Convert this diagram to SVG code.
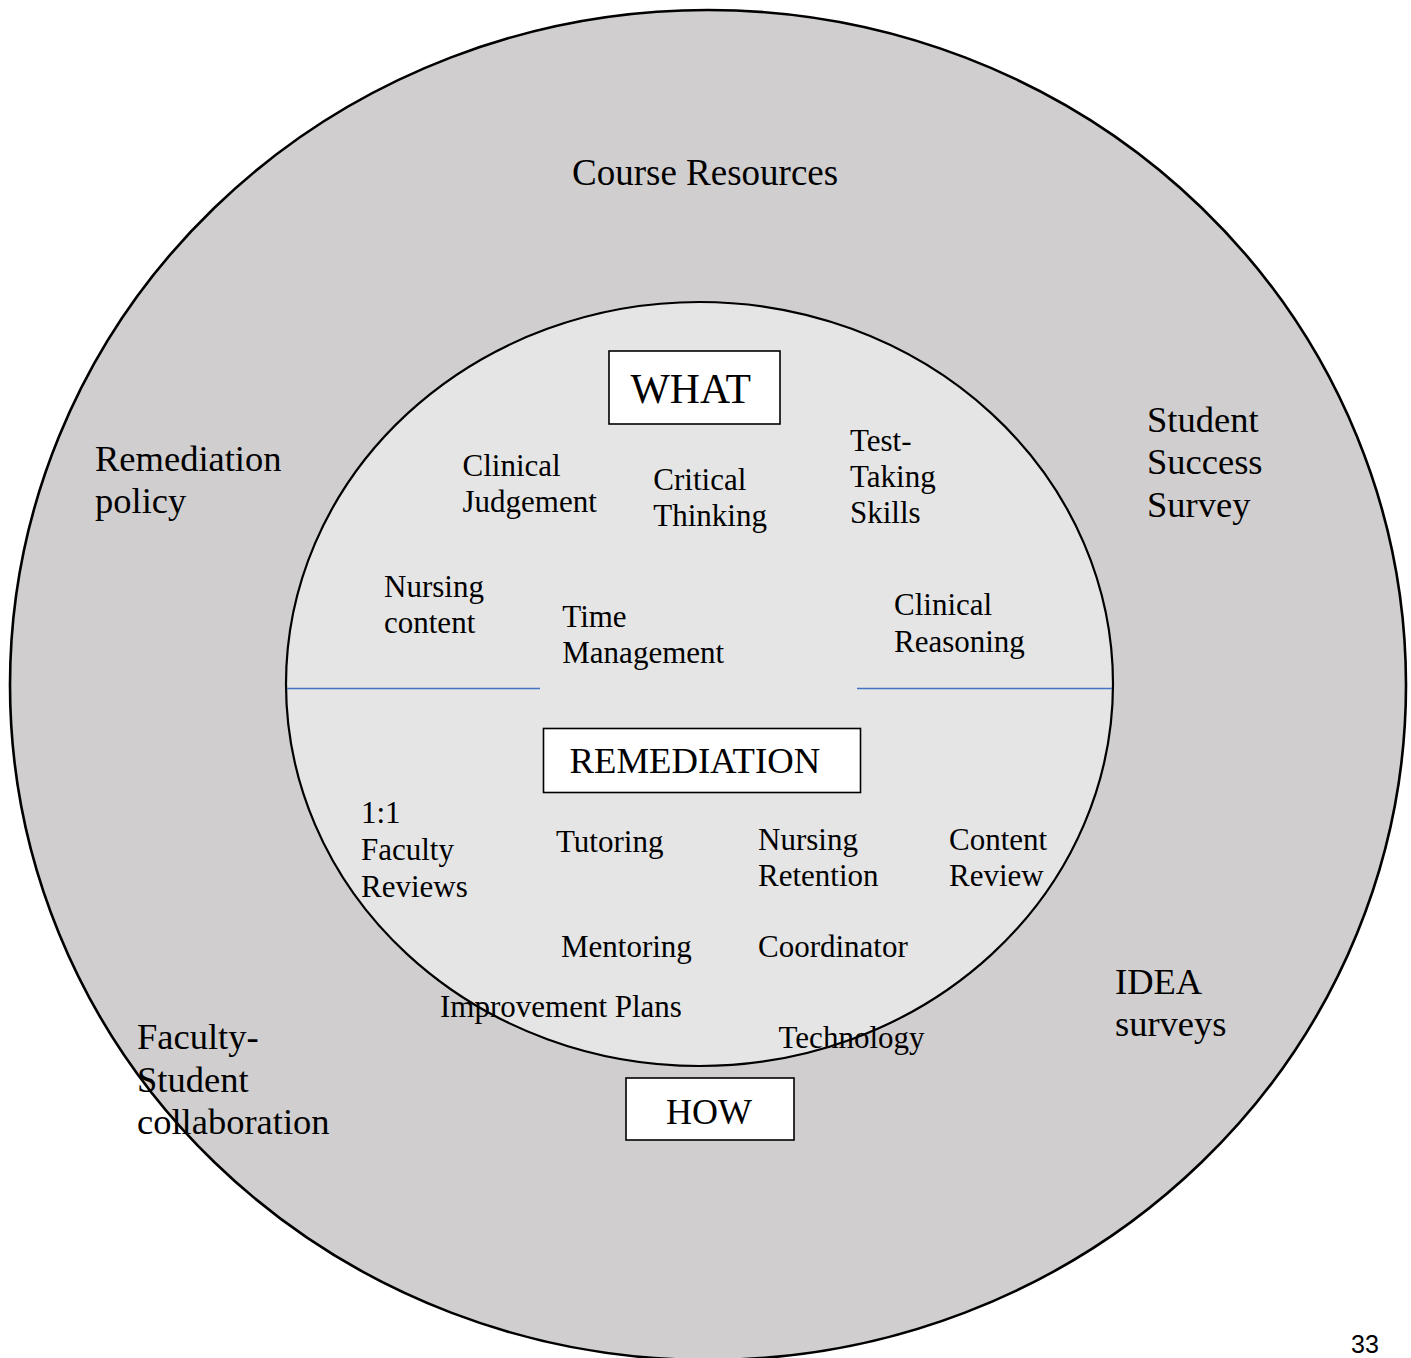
<svg xmlns="http://www.w3.org/2000/svg" width="1411" height="1358" viewBox="0 0 1411 1358">
<style>
.t{font-family:"Liberation Serif","Times New Roman",serif;fill:#000}
.o{font-size:36.5px}
.i{font-size:31px}
.box{fill:#fff;stroke:#000;stroke-width:1.6}
.div{stroke:#4472C4;stroke-width:1.6;fill:none}
</style>
<rect x="0" y="0" width="1411" height="1358" fill="#fff"/>
<g id="outer-ring">
<ellipse cx="708" cy="685" rx="698" ry="675" fill="#D0CECF" stroke="#000" stroke-width="2.6"/>
</g>
<g id="inner-circle">
<ellipse cx="699.5" cy="684" rx="413.5" ry="382" fill="#E5E5E5" stroke="#000" stroke-width="2.2"/>
</g>
<g id="connectors">
<line class="div" x1="287" y1="688.5" x2="540" y2="688.5"/>
<line class="div" x1="857" y1="688.5" x2="1112" y2="688.5"/>
</g>
<g id="outer-labels" class="t o">
<text x="572" y="185" font-size="37">Course Resources</text>
<text x="95" y="471">Remediation</text>
<text x="95" y="513">policy</text>
<text x="1147" y="432">Student</text>
<text x="1147" y="474">Success</text>
<text x="1147" y="517">Survey</text>
<text x="1115" y="994">IDEA</text>
<text x="1115" y="1036">surveys</text>
<text x="137" y="1048.5">Faculty-</text>
<text x="137" y="1091.5">Student</text>
<text x="137" y="1133.5">collaboration</text>
</g>
<g id="what">
<rect class="box" x="609" y="351" width="171" height="73"/>
<text class="t" x="630.5" y="402.5" font-size="41.7">WHAT</text>
</g>
<g id="what-items" class="t i">
<text x="462.5" y="476">Clinical</text>
<text x="462.5" y="511.7">Judgement</text>
<text x="653.3" y="490">Critical</text>
<text x="653.3" y="526">Thinking</text>
<text x="850" y="450.7">Test-</text>
<text x="850" y="487.3">Taking</text>
<text x="850" y="523.3">Skills</text>
<text x="384" y="596.7">Nursing</text>
<text x="384" y="633.3">content</text>
<text x="562.3" y="627.3">Time</text>
<text x="562.3" y="663.3">Management</text>
<text x="894" y="615">Clinical</text>
<text x="894" y="651.7">Reasoning</text>
</g>
<g id="remediation">
<rect class="box" x="543.5" y="728.5" width="317" height="64"/>
<text class="t" x="569.5" y="773.3" font-size="36.7">REMEDIATION</text>
</g>
<g id="how-items" class="t i">
<text x="361" y="823.3">1:1</text>
<text x="361" y="860">Faculty</text>
<text x="361" y="896.7">Reviews</text>
<text x="556" y="852">Tutoring</text>
<text x="758" y="850">Nursing</text>
<text x="758" y="886">Retention</text>
<text x="949" y="850">Content</text>
<text x="949" y="886">Review</text>
<text x="561" y="957.3">Mentoring</text>
<text x="758" y="957.3">Coordinator</text>
<text x="440" y="1017.3">Improvement Plans</text>
<text x="778.6" y="1048.3">Technology</text>
</g>
<g id="how">
<rect class="box" x="626" y="1078" width="168" height="62"/>
<text class="t" x="666" y="1124" font-size="36">HOW</text>
</g>
<g id="page-number">
<text x="1351" y="1353" font-family="'Liberation Sans',Arial,sans-serif" font-size="25">33</text>
</g>
</svg>
